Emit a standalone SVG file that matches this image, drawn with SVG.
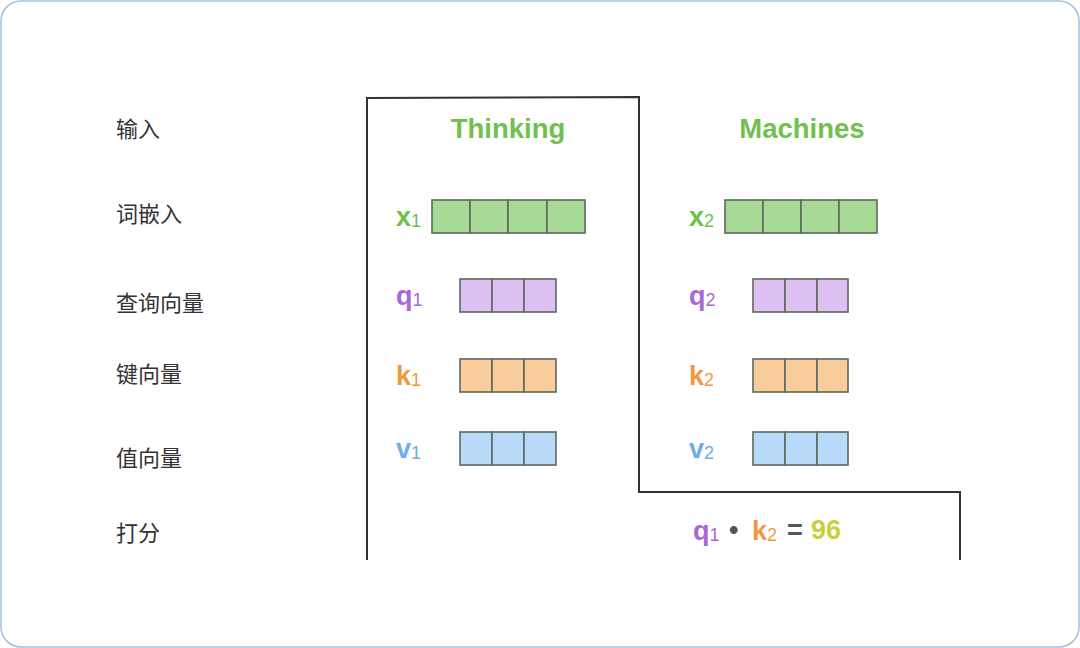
<svg xmlns="http://www.w3.org/2000/svg" width="1080" height="648" viewBox="0 0 1080 648">
<style>
.row{font-family:"Noto Sans CJK SC","Liberation Sans",sans-serif;font-size:22px;fill:#333}
.title{font-family:"Liberation Sans",Arial,sans-serif;font-weight:bold;font-size:27.5px;fill:#72c04e;text-anchor:middle}
.var{font-family:"Liberation Sans",Arial,sans-serif;font-weight:bold;font-size:27px}
.sub{font-size:18px;font-weight:normal}
.g{fill:#6fbf4c}.p{fill:#a968d6}.o{fill:#f0993f}.b{fill:#6cadea}.y{fill:#c9d13a}.k{fill:#555}
.cell{stroke:#5c6a5c;stroke-width:1.6}
.gc{fill:#a6da96}.pc{fill:#dcc1f2}.oc{fill:#f9cd9b}.bc{fill:#b9d9f8}
</style>
<rect x="1" y="1" width="1078" height="646" rx="20" fill="#fff" stroke="#a6bde0" stroke-width="1.5"/>
<g id="row-labels" class="row">
<text x="116" y="137">输入</text>
<text x="116" y="222">词嵌入</text>
<text x="116" y="311">查询向量</text>
<text x="116" y="382">键向量</text>
<text x="116" y="466">值向量</text>
<text x="116" y="541">打分</text>
</g>
<g id="connectors">
<polyline points="367,560 367,98 639,97 639,492 960,492 960,560" fill="none" stroke="#333" stroke-width="2"/>
</g>
<g id="thinking">
<text class="title" x="508" y="138">Thinking</text>
<g id="x1">
<text class="var g" x="396" y="226">x<tspan class="sub" dy="1">1</tspan></text>
<rect class="cell gc" x="432" y="200" width="38" height="33"/><rect class="cell gc" x="470" y="200" width="38" height="33"/><rect class="cell gc" x="508" y="200" width="39" height="33"/><rect class="cell gc" x="547" y="200" width="38" height="33"/>
</g>
<g id="q1">
<text class="var p" x="396" y="305">q<tspan class="sub" dy="1">1</tspan></text>
<rect class="cell pc" x="460" y="279" width="32" height="33"/><rect class="cell pc" x="492" y="279" width="32" height="33"/><rect class="cell pc" x="524" y="279" width="32" height="33"/>
</g>
<g id="k1">
<text class="var o" x="396" y="385">k<tspan class="sub" dy="1">1</tspan></text>
<rect class="cell oc" x="460" y="359" width="32" height="33"/><rect class="cell oc" x="492" y="359" width="32" height="33"/><rect class="cell oc" x="524" y="359" width="32" height="33"/>
</g>
<g id="v1">
<text class="var b" x="396" y="458">v<tspan class="sub" dy="1">1</tspan></text>
<rect class="cell bc" x="460" y="432" width="32" height="33"/><rect class="cell bc" x="492" y="432" width="32" height="33"/><rect class="cell bc" x="524" y="432" width="32" height="33"/>
</g>
</g>
<g id="machines">
<text class="title" x="802" y="138">Machines</text>
<g id="x2">
<text class="var g" x="689" y="226">x<tspan class="sub" dy="1">2</tspan></text>
<rect class="cell gc" x="725" y="200" width="38" height="33"/><rect class="cell gc" x="763" y="200" width="38" height="33"/><rect class="cell gc" x="801" y="200" width="38" height="33"/><rect class="cell gc" x="839" y="200" width="38" height="33"/>
</g>
<g id="q2">
<text class="var p" x="689" y="305">q<tspan class="sub" dy="1">2</tspan></text>
<rect class="cell pc" x="753" y="279" width="32" height="33"/><rect class="cell pc" x="785" y="279" width="32" height="33"/><rect class="cell pc" x="817" y="279" width="31" height="33"/>
</g>
<g id="k2">
<text class="var o" x="689" y="385">k<tspan class="sub" dy="1">2</tspan></text>
<rect class="cell oc" x="753" y="359" width="32" height="33"/><rect class="cell oc" x="785" y="359" width="32" height="33"/><rect class="cell oc" x="817" y="359" width="31" height="33"/>
</g>
<g id="v2">
<text class="var b" x="689" y="458">v<tspan class="sub" dy="1">2</tspan></text>
<rect class="cell bc" x="753" y="432" width="32" height="33"/><rect class="cell bc" x="785" y="432" width="32" height="33"/><rect class="cell bc" x="817" y="432" width="31" height="33"/>
</g>
</g>
<g id="score" class="var">
<text class="p" x="693" y="540">q<tspan class="sub" dy="1">1</tspan></text>
<text class="k" x="729" y="539">•</text>
<text class="o" x="752" y="540">k<tspan class="sub" dy="1">2</tspan></text>
<text class="k" x="787" y="539">=</text>
<text class="y" x="811" y="539">96</text>
</g>
</svg>
